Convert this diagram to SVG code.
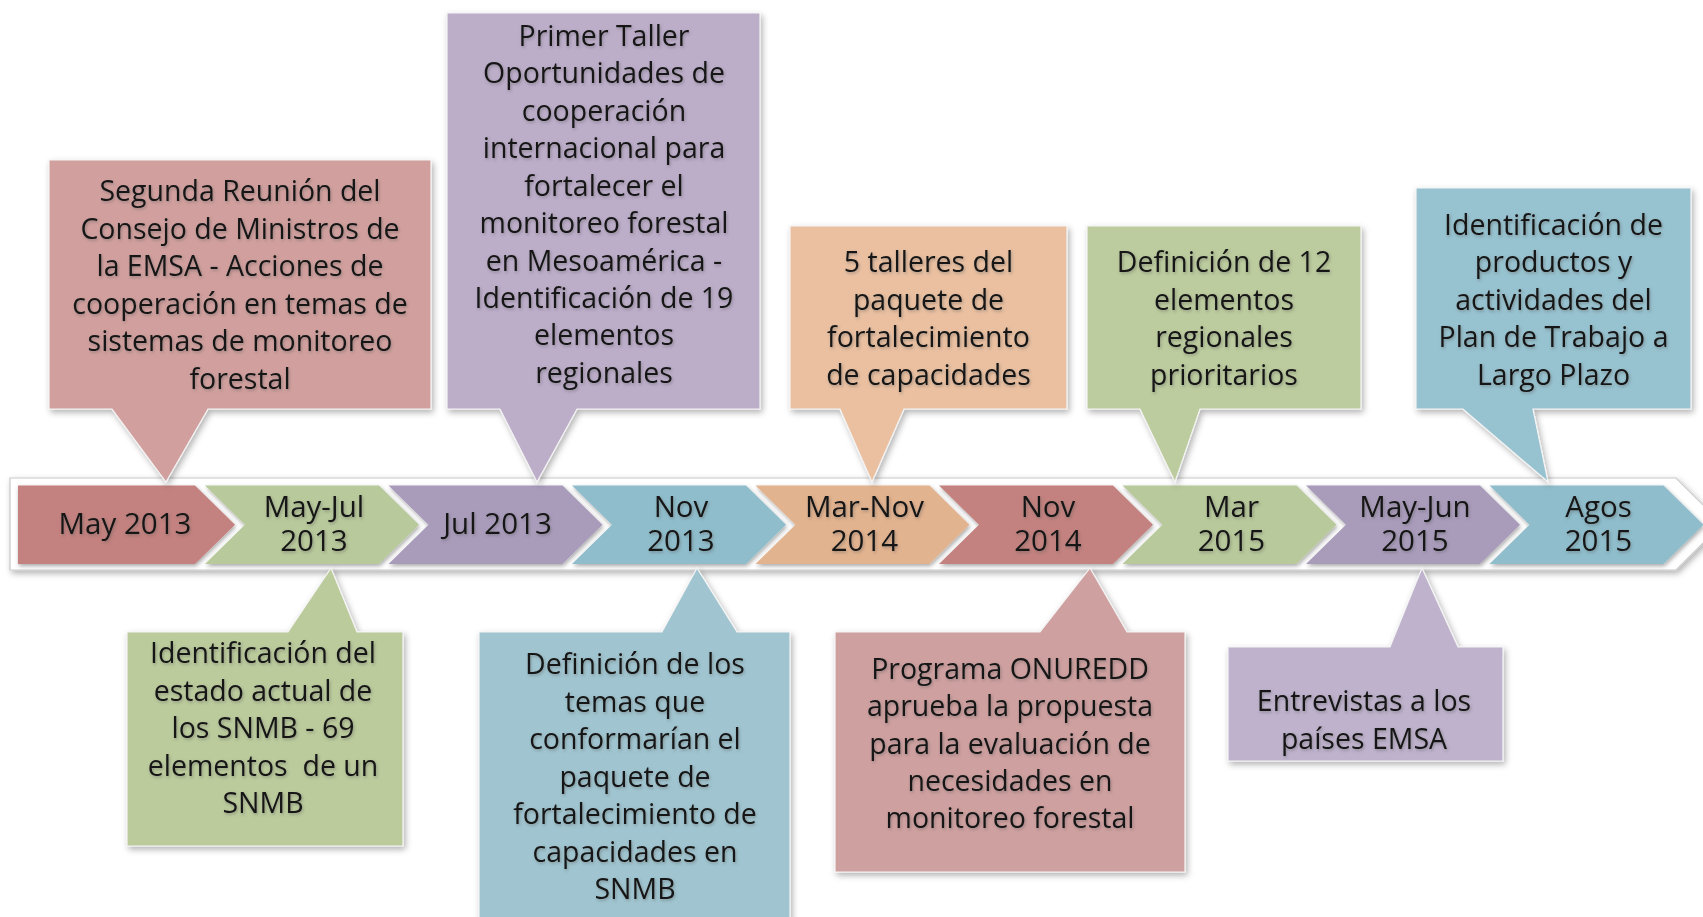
<svg xmlns="http://www.w3.org/2000/svg" width="1703" height="917" viewBox="0 0 1703 917">
<defs>
<filter id="sh" x="-10%" y="-10%" width="125%" height="130%"><feDropShadow dx="2" dy="3" stdDeviation="3" flood-color="#000" flood-opacity="0.3"/></filter>
<filter id="csh" x="-10%" y="-20%" width="120%" height="150%"><feDropShadow dx="1" dy="2" stdDeviation="2" flood-color="#000" flood-opacity="0.35"/></filter>
<filter id="tsh" x="-10%" y="-30%" width="120%" height="160%"><feDropShadow dx="1" dy="1.5" stdDeviation="1.6" flood-color="#555" flood-opacity="0.45"/></filter>
<style>
text{font-family:"Open Sans","Noto Sans","Liberation Sans",sans-serif;fill:#141414;text-anchor:middle;filter:url(#tsh)}
.c{font-size:28.5px}
.t{font-size:29.5px}
.call{filter:url(#sh);stroke:#f4f4f4;stroke-width:1.2}
.chev{filter:url(#csh)}
.red{fill:#C3827F}.grn{fill:#B8C99B}.pur{fill:#A99CBB}.blu{fill:#8FBDCB}.org{fill:#E2B38F}
</style>
</defs>

<g id="timeline">
<path d="M10,478 H1676 L1722,524 L1676,570 H10 Z" fill="#ffffff" stroke="#c9c9c9" stroke-width="1.2" filter="url(#sh)"/>
</g>

<g id="chevrons">
<g id="ch0"><path class="chev red" d="M18,485.5 H195 L235,524.75 L195,564 H18 Z"/><text class="t" x="125" y="534">May 2013</text></g>
<g id="ch1"><path class="chev grn" d="M205,485.5 H379 L419,524.75 L379,564 H205 L245,524.75 Z"/><text class="t" x="314" y="516.5">May-Jul</text><text class="t" x="314" y="550.5">2013</text></g>
<g id="ch2"><path class="chev pur" d="M388.5,485.5 H562.5 L602.5,524.75 L562.5,564 H388.5 L428.5,524.75 Z"/><text class="t" x="497.5" y="534">Jul 2013</text></g>
<g id="ch3"><path class="chev blu" d="M572,485.5 H746 L786,524.75 L746,564 H572 L612,524.75 Z"/><text class="t" x="681" y="516.5">Nov</text><text class="t" x="681" y="550.5">2013</text></g>
<g id="ch4"><path class="chev org" d="M755.5,485.5 H929.5 L969.5,524.75 L929.5,564 H755.5 L795.5,524.75 Z"/><text class="t" x="864.5" y="516.5">Mar-Nov</text><text class="t" x="864.5" y="550.5">2014</text></g>
<g id="ch5"><path class="chev red" d="M939,485.5 H1113 L1153,524.75 L1113,564 H939 L979,524.75 Z"/><text class="t" x="1048" y="516.5">Nov</text><text class="t" x="1048" y="550.5">2014</text></g>
<g id="ch6"><path class="chev grn" d="M1122.5,485.5 H1296.5 L1336.5,524.75 L1296.5,564 H1122.5 L1162.5,524.75 Z"/><text class="t" x="1231.5" y="516.5">Mar</text><text class="t" x="1231.5" y="550.5">2015</text></g>
<g id="ch7"><path class="chev pur" d="M1306,485.5 H1480 L1520,524.75 L1480,564 H1306 L1346,524.75 Z"/><text class="t" x="1415" y="516.5">May-Jun</text><text class="t" x="1415" y="550.5">2015</text></g>
<g id="ch8"><path class="chev blu" d="M1489.5,485.5 H1663.5 L1703.5,524.75 L1663.5,564 H1489.5 L1529.5,524.75 Z"/><text class="t" x="1598.5" y="516.5">Agos</text><text class="t" x="1598.5" y="550.5">2015</text></g>
</g>

<g id="connectors"></g>

<g id="c1">
<path class="call" fill="#D1A09E" d="M49,160 H431 V409 H208 L166,482 L112,409 H49 Z"/>
<text class="c" x="240" y="201">Segunda Reunión del</text>
<text class="c" x="240" y="239">Consejo de Ministros de</text>
<text class="c" x="240" y="276">la EMSA - Acciones de</text>
<text class="c" x="240" y="314">cooperación en temas de</text>
<text class="c" x="240" y="351">sistemas de monitoreo</text>
<text class="c" x="240" y="389">forestal</text>
</g>

<g id="c2">
<path class="call" fill="#BCADC9" d="M447,13 H760 V409 H577 L537,482 L500,409 H447 Z"/>
<text class="c" x="604" y="46">Primer Taller</text>
<text class="c" x="604" y="83">Oportunidades de</text>
<text class="c" x="604" y="121">cooperación</text>
<text class="c" x="604" y="158">internacional para</text>
<text class="c" x="604" y="196">fortalecer el</text>
<text class="c" x="604" y="233">monitoreo forestal</text>
<text class="c" x="604" y="271">en Mesoamérica -</text>
<text class="c" x="604" y="308">Identificación de 19</text>
<text class="c" x="604" y="345">elementos</text>
<text class="c" x="604" y="383">regionales</text>
</g>

<g id="c3">
<path class="call" fill="#EAC0A1" d="M790,226 H1067 V409 H904 L872,482 L840,409 H790 Z"/>
<text class="c" x="928.5" y="272">5 talleres del</text>
<text class="c" x="928.5" y="310">paquete de</text>
<text class="c" x="928.5" y="347">fortalecimiento</text>
<text class="c" x="928.5" y="385">de capacidades</text>
</g>

<g id="c4">
<path class="call" fill="#BCCC9E" d="M1087,226 H1361 V409 H1200 L1175,482 L1140,409 H1087 Z"/>
<text class="c" x="1224" y="272">Definición de 12</text>
<text class="c" x="1224" y="310">elementos</text>
<text class="c" x="1224" y="347">regionales</text>
<text class="c" x="1224" y="385">prioritarios</text>
</g>

<g id="c5">
<path class="call" fill="#97C2CF" d="M1416,188 H1691 V409 H1533 L1548,482 L1463,409 H1416 Z"/>
<text class="c" x="1553.5" y="235">Identificación de</text>
<text class="c" x="1553.5" y="272">productos y</text>
<text class="c" x="1553.5" y="310">actividades del</text>
<text class="c" x="1553.5" y="347">Plan de Trabajo a</text>
<text class="c" x="1553.5" y="385">Largo Plazo</text>
</g>

<g id="c6">
<path class="call" fill="#BBCB9C" d="M127,632 H288 L331,568 L357,632 H403 V846 H127 Z"/>
<text class="c" x="263" y="663">Identificación del</text>
<text class="c" x="263" y="701">estado actual de</text>
<text class="c" x="263" y="738">los SNMB - 69</text>
<text class="c" x="263" y="776" xml:space="preserve">elementos  de un</text>
<text class="c" x="263" y="813">SNMB</text>
</g>

<g id="c7">
<path class="call" fill="#A0C5D0" d="M479,632 H662 L697,568 L737,632 H790 V925 H479 Z"/>
<text class="c" x="635" y="674">Definición de los</text>
<text class="c" x="635" y="712">temas que</text>
<text class="c" x="635" y="749">conformarían el</text>
<text class="c" x="635" y="787">paquete de</text>
<text class="c" x="635" y="824">fortalecimiento de</text>
<text class="c" x="635" y="862">capacidades en</text>
<text class="c" x="635" y="899">SNMB</text>
</g>

<g id="c8">
<path class="call" fill="#CFA0A0" d="M835,632 H1040 L1090,568 L1127,632 H1185 V872 H835 Z"/>
<text class="c" x="1010" y="679">Programa ONUREDD</text>
<text class="c" x="1010" y="716">aprueba la propuesta</text>
<text class="c" x="1010" y="754">para la evaluación de</text>
<text class="c" x="1010" y="791">necesidades en</text>
<text class="c" x="1010" y="828">monitoreo forestal</text>
</g>

<g id="c9">
<path class="call" fill="#BEB2CC" d="M1228,647 H1390 L1422,568 L1458,647 H1503 V761 H1228 Z"/>
<text class="c" x="1364" y="711">Entrevistas a los</text>
<text class="c" x="1364" y="749">países EMSA</text>
</g>
</svg>
